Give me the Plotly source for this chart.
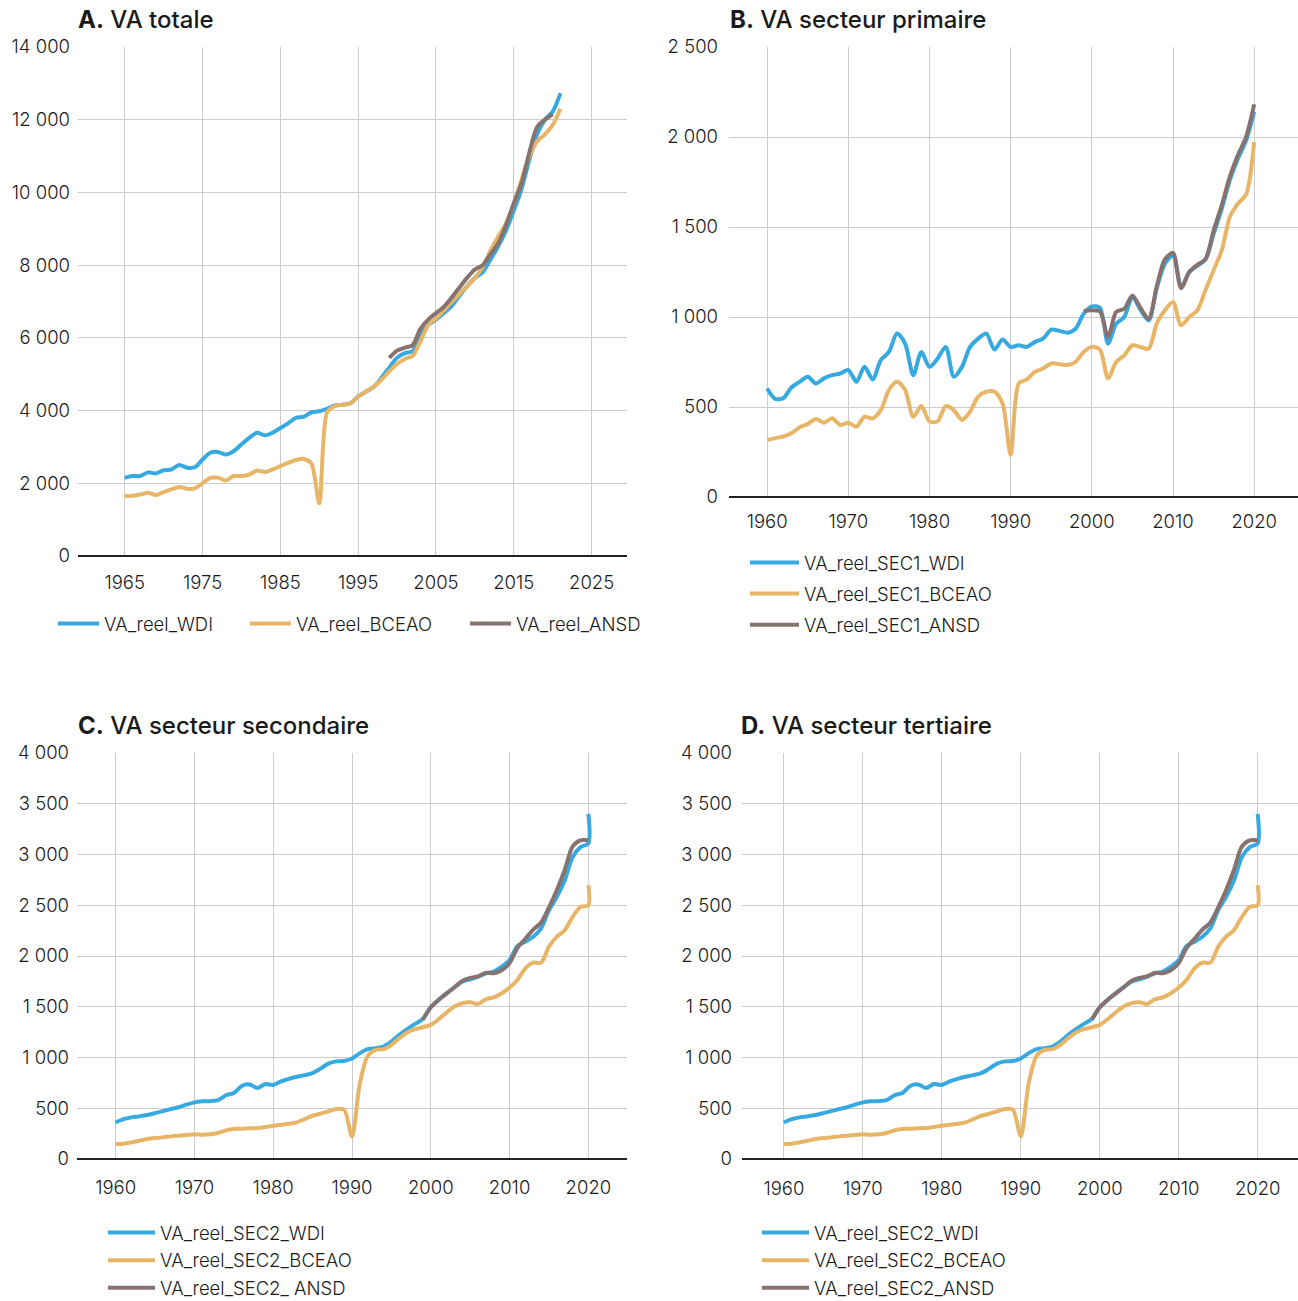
import plotly.graph_objects as go

# ---------------- DATA ----------------
# Panel A : VA totale
YEARS_A = list(range(1965, 2022))
VA_WDI = [2150, 2200, 2200, 2300, 2270, 2360, 2380, 2500, 2430, 2440,
          2650, 2840, 2860, 2790, 2880, 3070, 3250, 3390, 3320, 3390,
          3520, 3650, 3800, 3830, 3950, 3980, 4050, 4140, 4160, 4200,
          4390, 4520, 4650, 4900, 5180, 5450, 5580, 5630, 6100, 6350,
          6500, 6680, 6870, 7150, 7420, 7650, 7800, 8150, 8520, 8950,
          9500, 10100, 10900, 11600, 12000, 12220, 12730]
VA_BCEAO = [1650, 1660, 1690, 1740, 1675, 1760, 1830, 1900, 1850, 1860,
            2000, 2150, 2150, 2080, 2200, 2200, 2240, 2350, 2310, 2380,
            2470, 2560, 2640, 2670, 2540, 1450, 3940, 4120, 4160, 4200,
            4390, 4520, 4650, 4850, 5080, 5280, 5420, 5500, 5900, 6350,
            6530, 6750, 6980, 7200, 7420, 7650, 7950, 8400, 8790, 9150,
            9700, 10350, 11000, 11400, 11600, 11850, 12300]
YEARS_A_ANSD = list(range(1999, 2021))
VA_ANSD = [5450, 5650, 5730, 5800, 6250, 6500, 6680, 6850, 7100, 7380,
           7650, 7880, 8000, 8300, 8600, 9100, 9700, 10250, 11100, 11800,
           12000, 12150]

# Panel B : VA secteur primaire
YEARS_B = list(range(1960, 2021))
SEC1_WDI = [603, 545, 550, 609, 640, 668, 631, 659, 677, 686,
            705, 640, 723, 653, 760, 806, 908, 852, 677, 806,
            723, 769, 834, 668, 723, 834, 880, 908, 819, 875,
            834, 843, 834, 862, 880, 930, 923, 913, 935, 1018,
            1059, 1050, 852, 963, 1000, 1111, 1040, 981, 1160, 1296,
            1340, 1165, 1250, 1285, 1320, 1460, 1600, 1760, 1880, 1980,
            2140]
SEC1_BCEAO = [317, 327, 336, 354, 387, 406, 434, 413, 437, 400,
              413, 391, 446, 437, 483, 594, 640, 594, 446, 505,
              420, 420, 505, 483, 428, 474, 557, 585, 585, 520,
              234, 631, 653, 696, 714, 742, 738, 733, 751, 806,
              834, 819, 659, 750, 787, 843, 833, 824, 963, 1037,
              1083, 954, 1000, 1037, 1148, 1259, 1370, 1556, 1630, 1680,
              1972]
YEARS_B_ANSD = list(range(1999, 2021))
SEC1_ANSD = [1033, 1037, 1030, 889, 1028, 1046, 1120, 1050, 990, 1170,
             1320, 1356, 1160, 1250, 1290, 1320, 1480, 1620, 1780, 1900,
             2000, 2181]

# Panels C and D : VA secteur secondaire / tertiaire
YEARS_C = list(range(1960, 2021)) + [2020]
SEC2_WDI = [361, 393, 410, 420, 433, 452, 472, 492, 510, 535,
            558, 568, 570, 580, 628, 650, 720, 735, 700, 738,
            730, 764, 790, 810, 826, 846, 890, 940, 962, 965,
            990, 1043, 1082, 1092, 1108, 1157, 1223, 1279, 1331, 1380,
            1495, 1567, 1633, 1692, 1748, 1770, 1797, 1830, 1846, 1895,
            1961, 2100, 2141, 2190, 2272, 2452, 2582, 2746, 2975, 3073,
            3110, 3400]
SEC2_BCEAO = [148, 151, 164, 180, 197, 207, 213, 223, 230, 236,
              243, 239, 243, 256, 282, 295, 298, 302, 305, 315,
              328, 338, 348, 361, 393, 426, 446, 469, 492, 485,
              223, 748, 1016, 1075, 1082, 1125, 1190, 1246, 1279, 1298,
              1321, 1377, 1443, 1502, 1534, 1544, 1528, 1574, 1593, 1633,
              1690, 1764, 1879, 1935, 1935, 2092, 2190, 2255, 2386, 2484,
              2500, 2697]
YEARS_C_ANSD = list(range(1999, 2021))
SEC2_ANSD = [1375, 1495, 1570, 1630, 1690, 1755, 1785, 1800, 1835, 1830,
             1860, 1930, 2080, 2170, 2260, 2330, 2480, 2650, 2850, 3080,
             3140, 3140]

TITLES = ["<b>A.</b> VA totale", "<b>B.</b> VA secteur primaire",
          "<b>C.</b> VA secteur secondaire", "<b>D.</b> VA secteur tertiaire"]
NAMES_A = ["VA_reel_WDI", "VA_reel_BCEAO", "VA_reel_ANSD"]
NAMES_B = ["VA_reel_SEC1_WDI", "VA_reel_SEC1_BCEAO", "VA_reel_SEC1_ANSD"]
NAMES_C = ["VA_reel_SEC2_WDI", "VA_reel_SEC2_BCEAO", "VA_reel_SEC2_ ANSD"]
NAMES_D = ["VA_reel_SEC2_WDI", "VA_reel_SEC2_BCEAO", "VA_reel_SEC2_ANSD"]

# ---------------- STYLE ----------------
W, H = 1298, 1301
FONT = "Inter"
BLUE, ORANGE, BROWN = "#36A9E1", "#E8B567", "#86736F"
GRID = "#cccccc"
TXT = "#1a1a1a"
TICK_SIZE = 18.5
LEG_SIZE = 18.5
LIGHT = 300


def fx(p):
    return p / W


def fy(p):
    return 1 - p / H


fig = go.Figure()

panels = [
    # (suffix, x0, x1, ytop, ybot, xrange, yrange, ydtick, xtickvals, legend, standoff_x, standoff_y)
    ("", 78, 627, 47, 556, [1959.0, 2029.55], [0, 14000], 2000, list(range(1965, 2026, 10)), "legend", 13, 7),
    ("2", 729, 1298, 47, 497, [1955.3, 2025.4], [0, 2500], 500, list(range(1960, 2021, 10)), "legend2", 11, 10),
    ("3", 77, 627, 753, 1159, [1955.1, 2024.9], [0, 4000], 500, list(range(1960, 2021, 10)), "legend3", 15, 7),
    ("4", 742, 1298, 753, 1159, [1954.7, 2025.1], [0, 4000], 500, list(range(1960, 2021, 10)), "legend4", 16, 9),
]

series = [
    [(YEARS_A, VA_WDI, BLUE), (YEARS_A, VA_BCEAO, ORANGE), (YEARS_A_ANSD, VA_ANSD, BROWN)],
    [(YEARS_B, SEC1_WDI, BLUE), (YEARS_B, SEC1_BCEAO, ORANGE), (YEARS_B_ANSD, SEC1_ANSD, BROWN)],
    [(YEARS_C, SEC2_WDI, BLUE), (YEARS_C, SEC2_BCEAO, ORANGE), (YEARS_C_ANSD, SEC2_ANSD, BROWN)],
    [(YEARS_C, SEC2_WDI, BLUE), (YEARS_C, SEC2_BCEAO, ORANGE), (YEARS_C_ANSD, SEC2_ANSD, BROWN)],
]
names = [NAMES_A, NAMES_B, NAMES_C, NAMES_D]
legend_widths_A = [136, 164, 0]

layout_axes = {}
for i, (suf, x0, x1, yt, yb, xr, yr, ydt, xtv, leg, sox, soy) in enumerate(panels):
    for j, (xs, ys, col) in enumerate(series[i]):
        kw = {}
        if i == 0 and legend_widths_A[j]:
            kw["legendwidth"] = legend_widths_A[j]
        fig.add_trace(go.Scatter(
            x=xs, y=ys, mode="lines", name=names[i][j],
            line=dict(color=col, width=4, shape="spline", smoothing=0.8),
            xaxis="x" + suf, yaxis="y" + suf, legend=leg,
            legendgroup=f"g{i}{j}", **kw,
        ))
    layout_axes["xaxis" + suf] = dict(
        domain=[fx(x0), fx(x1)], range=xr, anchor="y" + suf,
        tickvals=xtv, showgrid=True, gridcolor=GRID, gridwidth=1,
        zeroline=False, showline=False, ticks="",
        tickfont=dict(family=FONT, size=TICK_SIZE, color=TXT, weight=LIGHT),
        ticklabelstandoff=sox, fixedrange=True, automargin=False,
    )
    layout_axes["yaxis" + suf] = dict(
        domain=[fy(yb), fy(yt)], range=yr, anchor="x" + suf,
        dtick=ydt, tick0=0, showgrid=True, gridcolor=GRID, gridwidth=1,
        zeroline=True, zerolinecolor="#222222", zerolinewidth=2,
        showline=False, ticks="", tickformat=",d",
        tickfont=dict(family=FONT, size=TICK_SIZE, color=TXT, weight=LIGHT),
        ticklabelstandoff=soy, fixedrange=True, automargin=False,
    )

title_pos = [(76, 20), (728, 20), (76, 726), (739, 726)]
annotations = []
for t, (px, py) in zip(TITLES, title_pos):
    annotations.append(dict(
        text=t, x=fx(px), y=fy(py), xref="paper", yref="paper",
        xanchor="left", yanchor="middle", showarrow=False,
        font=dict(family=FONT, size=24, color=TXT, weight=500),
    ))

legfont = dict(family=FONT, size=LEG_SIZE, color=TXT, weight=LIGHT)
fig.update_layout(
    width=W, height=H,
    margin=dict(l=0, r=0, t=0, b=0, pad=0, autoexpand=False),
    paper_bgcolor="white", plot_bgcolor="white",
    separators=", ",
    annotations=annotations,
    showlegend=True,
    legend=dict(orientation="h", x=fx(53), y=fy(624), xanchor="left", yanchor="middle",
                font=legfont, itemwidth=41, bgcolor="rgba(0,0,0,0)", traceorder="normal"),
    legend2=dict(orientation="v", x=fx(745), y=fy(544), xanchor="left", yanchor="top",
                 font=legfont, itemwidth=49, tracegroupgap=4, bgcolor="rgba(0,0,0,0)"),
    legend3=dict(orientation="v", x=fx(103), y=fy(1214), xanchor="left", yanchor="top",
                 font=legfont, itemwidth=47, tracegroupgap=0.6, bgcolor="rgba(0,0,0,0)"),
    legend4=dict(orientation="v", x=fx(757), y=fy(1214), xanchor="left", yanchor="top",
                 font=legfont, itemwidth=47, tracegroupgap=0.6, bgcolor="rgba(0,0,0,0)"),
    **layout_axes,
)

fig.write_html(
    "out.html",
    config={"displayModeBar": False},
    post_script=(
        "document.documentElement.style.margin='0';document.body.style.margin='0';"
        "document.documentElement.style.overflow='hidden';document.body.style.overflow='hidden';"
    ),
)
